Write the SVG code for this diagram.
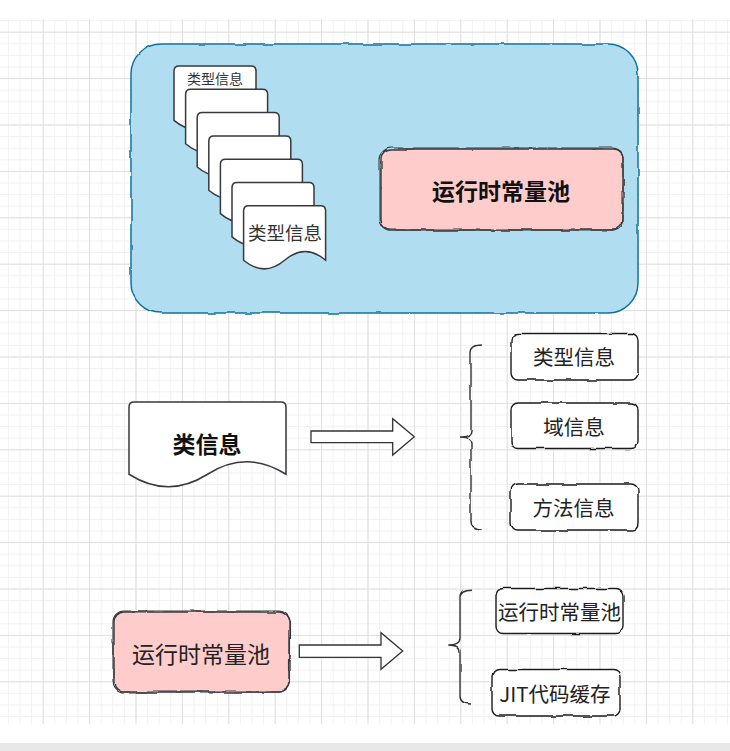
<svg xmlns="http://www.w3.org/2000/svg" xmlns:xlink="http://www.w3.org/1999/xlink" width="730" height="751" viewBox="0 0 730 751">
<style>
  .t { font-family: "Noto Sans CJK SC", "DejaVu Sans", sans-serif; text-anchor: middle; dominant-baseline: central; }
  .doc { fill: #ffffff; stroke: #36393d; stroke-width: 1.5; }
  .box { fill: #ffffff; stroke: #1a1a1a; stroke-width: 1.4; }
  .pink { fill: #ffcccc; stroke: #36393d; stroke-width: 1.4; }
  .pinkline { fill: none; stroke: #36393d; stroke-width: 1.1; }
  .arrow { fill: #ffffff; stroke: #333333; stroke-width: 1.3; stroke-linejoin: miter; }
  .brace { fill: none; stroke: #333333; stroke-width: 1.4; }
</style>
<defs>
  <pattern id="minor" patternUnits="userSpaceOnUse" x="7.9" y="8.5" width="11.6" height="11.6">
    <path d="M0.5 0V11.6M0 0.5H11.6" stroke="#f1f1f1" stroke-width="1" fill="none"/>
  </pattern>
  <pattern id="major" patternUnits="userSpaceOnUse" x="42.7" y="31.7" width="46.4" height="46.4">
    <path d="M0.5 0V46.4M0 0.5H46.4" stroke="#e0e0e0" stroke-width="1" fill="none"/>
  </pattern>
  <filter id="rough" x="-5%" y="-5%" width="110%" height="110%">
    <feTurbulence type="fractalNoise" baseFrequency="0.05" numOctaves="2" seed="2"/>
    <feDisplacementMap in="SourceGraphic" scale="3" xChannelSelector="R" yChannelSelector="G"/>
  </filter>
  <filter id="rough2" x="-5%" y="-5%" width="110%" height="110%">
    <feTurbulence type="fractalNoise" baseFrequency="0.06" numOctaves="2" seed="9"/>
    <feDisplacementMap in="SourceGraphic" scale="3.5" xChannelSelector="R" yChannelSelector="G"/>
  </filter>
  <path id="docshape" d="M0,5 Q0,0 5,0 H77 Q82,0 82,5 V54.4 Q61.5,37.1 41,54.4 Q20.5,71.7 0,54.4 Z"/>
</defs>

<!-- background grid -->
<rect x="0" y="0" width="730" height="751" fill="#ffffff"/>
<rect x="0" y="19" width="730" height="705" fill="url(#minor)"/>
<rect x="0" y="19" width="730" height="705" fill="url(#major)"/>
<rect x="0" y="743" width="730" height="8" fill="#e8e8e8"/>

<!-- method area container -->
<g id="method-area">
  <rect x="131" y="44" width="507" height="269" rx="30" ry="30" fill="#b1ddf0" stroke="#10739e" stroke-width="1.5" filter="url(#rough)"/>
</g>

<!-- stacked type-info documents -->
<g id="doc-stack">
  <use xlink:href="#docshape" href="#docshape" class="doc" x="174" y="66"/>
  <use xlink:href="#docshape" href="#docshape" class="doc" x="185.6" y="89.3"/>
  <use xlink:href="#docshape" href="#docshape" class="doc" x="197.2" y="112.6"/>
  <use xlink:href="#docshape" href="#docshape" class="doc" x="208.8" y="135.9"/>
  <use xlink:href="#docshape" href="#docshape" class="doc" x="220.4" y="159.2"/>
  <use xlink:href="#docshape" href="#docshape" class="doc" x="232" y="182.5"/>
  <use xlink:href="#docshape" href="#docshape" class="doc" x="243.6" y="205.8"/>
  <text class="t" x="215" y="78" font-size="14" fill="#333333">类型信息</text>
  <text class="t" x="285" y="232" font-size="18.5" fill="#333333">类型信息</text>
</g>

<g id="runtime-pool-top">
  <rect x="381" y="149" width="242" height="81" rx="10" ry="10" class="pink" filter="url(#rough)"/>
  <rect x="380" y="148" width="243" height="82" rx="11" ry="11" class="pinkline" filter="url(#rough2)"/>
  <text class="t" x="501" y="190" font-size="23" font-weight="bold" fill="#111111">运行时常量池</text>
</g>

<!-- class info document -->
<g id="class-info">
  <path d="M129,407 Q129,402 134,402 H281 Q286,402 286,407 V474.25 Q246.75,449.3 207.5,474.25 Q168.25,499.2 129,474.25 Z" class="doc" stroke="#333333"/>
  <text class="t" x="207" y="443" font-size="23" font-weight="bold" fill="#111111">类信息</text>
</g>

<g id="type-info">
  <rect x="511" y="333.5" width="127" height="46.5" rx="7" ry="7" class="box" filter="url(#rough)"/>
  <text class="t" x="574" y="356" font-size="20.5" fill="#222222">类型信息</text>
</g>
<g id="field-info">
  <rect x="511" y="403" width="127" height="45.5" rx="7" ry="7" class="box" filter="url(#rough2)"/>
  <text class="t" x="574" y="425.5" font-size="20.5" fill="#222222">域信息</text>
</g>
<g id="method-info">
  <rect x="511" y="484" width="127" height="46" rx="7" ry="7" class="box" filter="url(#rough)"/>
  <text class="t" x="573.5" y="506.5" font-size="20.5" fill="#222222">方法信息</text>
</g>

<!-- runtime constant pool (bottom) -->
<g id="runtime-pool-bottom">
  <rect x="114" y="612" width="175" height="80" rx="10" ry="10" class="pink" filter="url(#rough)"/>
  <rect x="113" y="611" width="176.5" height="81" rx="11" ry="11" class="pinkline" filter="url(#rough2)"/>
  <text class="t" x="201" y="652.5" font-size="23" fill="#222222">运行时常量池</text>
</g>

<g id="runtime-pool-item">
  <rect x="496" y="588.5" width="127" height="45" rx="7" ry="7" class="box" filter="url(#rough2)"/>
  <text class="t" x="559.5" y="611" font-size="20.5" fill="#222222">运行时常量池</text>
</g>
<g id="jit-cache">
  <rect x="492" y="669.5" width="128" height="46.5" rx="7" ry="7" class="box" filter="url(#rough)"/>
  <text class="t" x="555" y="692.5" font-size="20.5" fill="#222222">JIT代码缓存</text>
</g>

<!-- connectors -->
<g id="connectors">
  <polygon class="arrow" points="311,431 392.7,431 392.7,418.7 414.3,436.7 392.7,455 392.7,442.7 311,442.7"/>
  <path class="brace" filter="url(#rough)" d="M482,345 Q471,345 471,353 V430 Q471,437 460,437 Q471,437 471,444 V522 Q471,530 482,530"/>
  <polygon class="arrow" points="299.3,645 381,645 381,632.7 402.7,651 381,669.3 381,657.3 299.3,657.3"/>
  <path class="brace" filter="url(#rough)" d="M472,589.3 Q460,589.3 460,597 V638 Q460,645 448.3,645 Q460,645 460,652 V696 Q460,704 471,704"/>
</g>
</svg>
